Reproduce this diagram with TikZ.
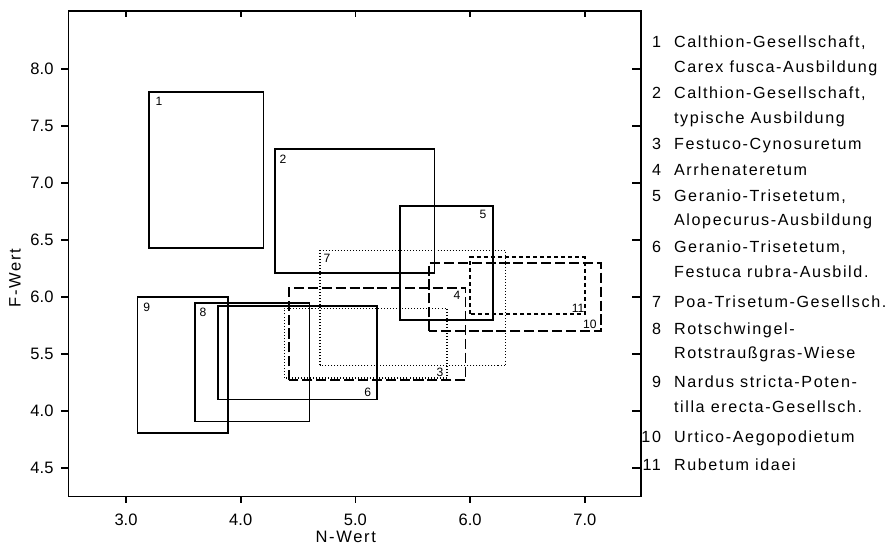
\documentclass[tikz,border=0pt]{standalone}
\usepackage{fontspec}
\setmainfont{Liberation Sans}
\newfontfamily\spacedfont[LetterSpace=10]{Liberation Sans}

\begin{document}
\begin{tikzpicture}[x=2cm,y=1.988cm,line width=0.8pt,
   every node/.style={inner sep=1pt, outer sep=0pt},
   ticklabel/.style={font=\fontsize{8.2}{9}\selectfont},
   axislabel/.style={font=\spacedfont\fontsize{8.2}{9}\selectfont},
   boxnum/.style={font=\fontsize{6}{7}\selectfont, inner sep=0pt},
   legend/.style={font=\spacedfont\fontsize{8}{9}\selectfont, inner sep=0pt},
   longdash/.style={dash pattern=on 5pt off 1.9pt},
   shortdash/.style={dash pattern=on 2pt off 1.5pt},
   dots/.style={dash pattern=on 0.5pt off 1pt, line width=0.7pt}]
   \useasboundingbox (1.9015,3.7719) rectangle (9.6434,8.6053);

   % frame and ticks
   \draw (2.5,4.25) rectangle (7.49,8.51);
   \foreach \f/\t in {8.0/8.0,7.5/7.5,7.0/7.0,6.5/6.5,6.0/6.0,5.5/5.5,5.0/4.0,4.5/4.5}{
      \draw (2.5,\f) -- (2.43,\f);
      \draw (7.49,\f) -- (7.41,\f);
      \node[ticklabel, anchor=east] (f\t) at (2.385,\f) {\t};
   }
   \foreach \n in {3,4,5,6,7}{
      \draw (\n,4.25) -- (\n,4.19);
      \draw (\n,8.51) -- (\n,8.46);
      \node[ticklabel] (n\n) at (\n,4.044) {\n.0};
   }
   \node[axislabel] (nwert) at (4.916,3.897) {N-Wert};
   \node[axislabel, rotate=90] (fwert) at (2.032,6.167) {F-Wert};

   % ranges
   \draw (3.2,6.43) rectangle (4.2,7.8);
   \draw (4.3,6.21) rectangle (5.69,7.30);
   \draw [dots] (4.38,5.29) rectangle (5.80,5.90);
   \draw [longdash] (4.42,5.27) rectangle (5.96,6.08);
   \draw (5.39,5.80) rectangle (6.20,6.80);
   \draw (3.80,5.10) rectangle (5.19,5.92);
   \draw [dots] (4.69,5.40) rectangle (6.31,6.41);
   \draw (3.60,4.91) rectangle (4.60,5.95);
   \draw (3.10,4.81) rectangle (3.89,6.00);
   \draw [longdash] (5.64,5.70) rectangle (7.14,6.30);
   \draw [shortdash] (6.00,5.85) rectangle (7.00,6.35);

   \node[boxnum] (r1) at (3.288,7.713) {1};
   \node[boxnum] (r2) at (4.369,7.21) {2};
   \node[boxnum] (r3) at (5.738,5.342) {3};
   \node[boxnum] (r4) at (5.886,6.011) {4};
   \node[boxnum] (r5) at (6.112,6.728) {5};
   \node[boxnum] (r6) at (5.107,5.16) {6};
   \node[boxnum] (r7) at (4.752,6.342) {7};
   \node[boxnum] (r8) at (3.671,5.862) {8};
   \node[boxnum] (r9) at (3.18,5.906) {9};
   \node[boxnum] (r10) at (7.045,5.763) {10};
   \node[boxnum] (r11) at (6.941,5.904) {11};

   % legend
   \foreach \y/\k in {8.239/1,7.789/2,7.342/3,7.114/4,6.886/5,6.441/6,
                      5.959/7,5.719/8,5.257/9,4.775/10,4.526/11}
      \node[legend, anchor=base east] (k\k) at (7.664,\y-0.047) {\k};
   \foreach \y/\txt [count=\i] in {8.239/{Calthion-Gesellschaft,},
      8.020/{Carex fusca-Ausbildung},
      7.789/{Calthion-Gesellschaft,},
      7.570/{typische Ausbildung},
      7.342/{Festuco-Cynosuretum},
      7.114/{Arrhenateretum},
      6.886/{Geranio-Trisetetum,},
      6.675/{Alopecurus-Ausbildung},
      6.441/{Geranio-Trisetetum,},
      6.222/{Festuca rubra-Ausbild.},
      5.959/{Poa-Trisetum-Gesellsch.},
      5.719/{Rotschwingel-},
      5.509/{Rotstraußgras-Wiese},
      5.257/{Nardus stricta-Poten-},
      5.038/{tilla erecta-Gesellsch.},
      4.775/{Urtico-Aegopodietum},
      4.526/{Rubetum idaei}}
      \node[legend, anchor=base west] (e\i) at (7.778,\y-0.047) {\txt};
\end{tikzpicture}
\end{document}
